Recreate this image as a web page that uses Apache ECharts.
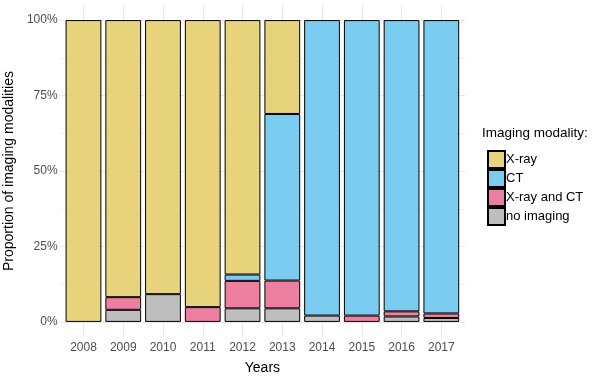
<!DOCTYPE html>
<html><head><meta charset="utf-8">
<script src="https://cdn.jsdelivr.net/npm/echarts@6/dist/echarts.min.js"></script>
<style>html,body{margin:0;padding:0;background:#fff}#c{width:605px;height:377px}</style>
</head><body><div id="c"></div>
<script>
const years = ['2008','2009','2010','2011','2012','2013','2014','2015','2016','2017'];
const noImaging = [0, 4.0, 9.2, 0, 4.5, 4.5, 2.1, 0, 1.8, 1.3];
const xrayAndCT = [0, 4.2, 0, 4.9, 9.1, 9.2, 0, 2.1, 1.7, 1.5];
const ct        = [0, 0, 0, 0, 2.1, 55.2, 97.9, 97.9, 96.5, 97.2];
const xray      = [100, 91.8, 90.8, 95.1, 84.3, 31.1, 0, 0, 0, 0];
const yTicks = [0, 25, 50, 75, 100];
const legendOrder = ['X-ray', 'CT', 'X-ray and CT', 'no imaging'];

const font = 'Liberation Sans, Arial, sans-serif';
const chart = echarts.init(document.getElementById('c'), null, {renderer: 'canvas'});
function bar(name, data, color) {
  return {name, type: 'bar', stack: 'all', data: data.map(v => v === 0 ? '-' : v),
    xAxisIndex: 0, yAxisIndex: 0, barCategoryGap: '10%', z: 10,
    itemStyle: {color, borderColor: '#000', borderWidth: 1}, animation: false};
}
const L = 63.6, R = 143.8, band = (605 - L - R) / years.length;
const hidden = {axisLine: {show: false}, axisTick: {show: false}, axisLabel: {show: false}};
chart.setOption({
  animation: false,
  textStyle: {fontFamily: font},
  grid: [
    {left: L, right: R, top: 5, bottom: 40, outerBoundsMode: 'none'},
    {left: L - 4, right: R - 4, top: 20, bottom: 55, outerBoundsMode: 'none'},
    {left: L + band / 2, right: R + band / 2, top: 5, bottom: 40, outerBoundsMode: 'none'}
  ],
  xAxis: [
    {type: 'category', data: years, boundaryGap: true, gridIndex: 0,
      name: 'Years', nameLocation: 'middle', nameGap: 24,
      nameTextStyle: {color: '#000', fontSize: 14, fontFamily: font},
      axisLine: {show: false}, axisTick: {show: false}, splitLine: {show: false},
      axisLabel: {color: '#4d4d4d', fontSize: 12, margin: 5, fontFamily: font}},
    {type: 'value', gridIndex: 1, min: 0, max: 1, ...hidden, splitLine: {show: false}},
    {type: 'value', gridIndex: 2, min: 0, max: years.length - 1, interval: 1, ...hidden,
      splitLine: {show: true, lineStyle: {color: '#e8e8e8', width: 1}}}
  ],
  yAxis: [
    {type: 'value', min: -5, max: 105, gridIndex: 0,
      name: 'Proportion of imaging modalities', nameLocation: 'middle', nameGap: 41, nameRotate: 90,
      nameTextStyle: {color: '#000', fontSize: 14, fontFamily: font},
      axisLine: {show: false}, axisTick: {show: false}, splitLine: {show: false},
      axisLabel: {customValues: yTicks, formatter: v => v + '%', color: '#4d4d4d', fontSize: 12, margin: 6, fontFamily: font}},
    {type: 'value', gridIndex: 1, min: 0, max: 100, interval: 25, ...hidden,
      splitLine: {show: true, lineStyle: {color: '#e8e8e8', width: 1}},
      minorTick: {show: false, splitNumber: 2},
      minorSplitLine: {show: true, lineStyle: {color: '#f2f2f2', width: 1}}},
    {type: 'value', gridIndex: 2, min: 0, max: 1, ...hidden, splitLine: {show: false}}
  ],
  legend: {orient: 'vertical', left: 482, top: 145, itemWidth: 17, itemHeight: 17, itemGap: 0,
    data: legendOrder, icon: 'rect', selectedMode: false,
    textStyle: {color: '#000', fontSize: 13, fontFamily: font, padding: [0,0,0,-4]}},
  graphic: [{type: 'text', left: 482, top: 126, style: {text: 'Imaging modality:', fill: '#000', font: '13.5px ' + font}}],
  series: [
    bar('no imaging', noImaging, '#bebebe'),
    bar('X-ray and CT', xrayAndCT, '#ec7fa0'),
    bar('CT', ct, '#7acdf0'),
    bar('X-ray', xray, '#e8d37d')
  ]
});
</script></body></html>
